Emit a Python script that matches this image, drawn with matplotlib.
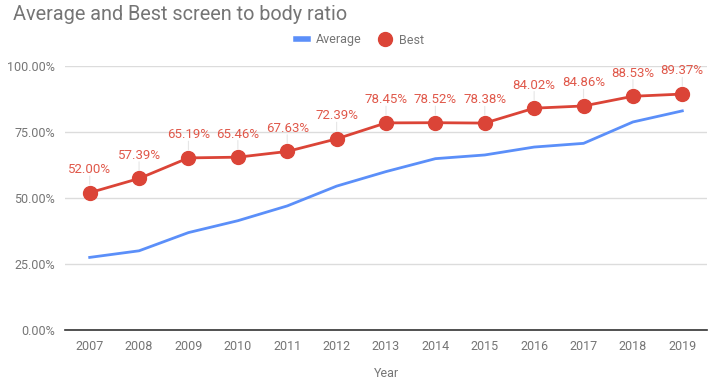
import matplotlib.pyplot as plt
from matplotlib.lines import Line2D

years = ['2007', '2008', '2009', '2010', '2011', '2012', '2013',
         '2014', '2015', '2016', '2017', '2018', '2019']
average = [27.5, 30.0, 36.9, 41.4, 47.0, 54.5, 60.0, 64.9, 66.3, 69.3, 70.7, 78.8, 83.0]
best = [52.00, 57.39, 65.19, 65.46, 67.63, 72.39, 78.45, 78.52, 78.38, 84.02, 84.86, 88.53, 89.37]
yticks = [0, 25, 50, 75, 100]

plt.rcParams['font.family'] = ['Roboto', 'DejaVu Sans']
grey = '#757575'
red = '#db4437'
blue = '#5b8ff9'

fig = plt.figure(figsize=(7.27, 3.85), dpi=100)
ax = fig.add_axes([65 / 727, 55 / 385, 642 / 727, 264 / 385])

x = list(range(len(years)))
ax.plot(x, average, color=blue, lw=2, zorder=3)
ax.plot(x, best, color=red, lw=2, marker='o', markersize=10, zorder=4)

for xi, v in zip(x, best):
    ax.annotate('', xy=(xi, v), xytext=(0, 12), textcoords='offset points',
                arrowprops=dict(arrowstyle='-', color='#e6e6e6', lw=0.8, shrinkA=0, shrinkB=6))
    ax.annotate(f'{v:.2f}%', (xi, v), xytext=(0, 12), textcoords='offset points',
                ha='center', va='bottom', color='#e0584a', fontsize=9.5)

ax.set_xlim(-0.5, len(years) - 0.5)
ax.set_ylim(0, 100)
ax.set_xticks(x)
ax.set_xticklabels(years)
ax.set_yticks(yticks)
ax.set_yticklabels([f'{t:.2f}%' for t in yticks])
ax.tick_params(length=0, colors=grey, labelsize=9, pad=7)
ax.grid(axis='y', color='#dcdcdc', lw=1)
ax.set_axisbelow(True)
for s in ['top', 'right', 'left']:
    ax.spines[s].set_visible(False)
ax.spines['bottom'].set_color('#333333')
ax.spines['bottom'].set_linewidth(1.2)
ax.set_xlabel('Year', color=grey, fontsize=9, labelpad=10)

fig.text(13 / 727, 1 - 14 / 385, 'Average and Best screen to body ratio',
         color=grey, fontsize=14.3, va='center', ha='left')
handles = [Line2D([], [], color=blue, lw=4),
           Line2D([], [], color=red, lw=0, marker='o', markersize=10)]
fig.legend(handles, ['Average', 'Best'], loc='center', bbox_to_anchor=(360 / 727, 1 - 40 / 385),
           ncol=2, frameon=False, fontsize=9, labelcolor=grey, handlelength=1.0,
           columnspacing=1.4, handletextpad=0.6)

fig.savefig('out.png', dpi=100)
